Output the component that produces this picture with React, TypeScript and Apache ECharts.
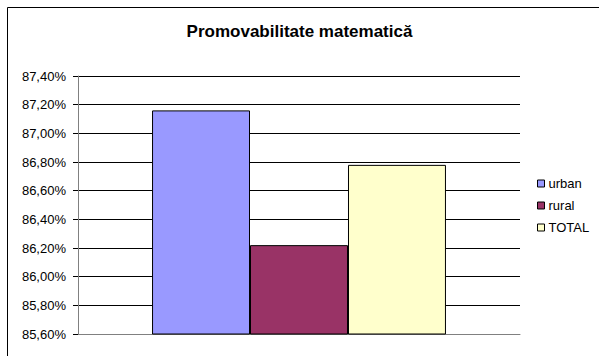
import React, { useEffect, useRef } from "react";
import * as echarts from "echarts";

const categories = [""];
const seriesNames = ["urban", "rural", "TOTAL"];
const seriesValues = [87.16, 86.22, 86.78];
const seriesColors = ["#9999FF", "#993366", "#FFFFCC"];
const yMin = 85.6;
const yMax = 87.4;
const yInterval = 0.2;

export default function App() {
  const ref = useRef<HTMLDivElement>(null);
  useEffect(() => {
    if (!ref.current) return;
    const chart = echarts.init(ref.current, null, { renderer: "svg" });
    const font = "Arial, 'Liberation Sans', sans-serif";
    chart.setOption({
      animation: false,
      backgroundColor: "#ffffff",
      textStyle: { fontFamily: font },
      title: {
        text: "Promovabilitate matematică",
        left: "center",
        top: 18,
        textStyle: { fontSize: 17, fontWeight: "bold", color: "#000", fontFamily: font },
      },
      graphic: [
        {
          type: "rect",
          shape: { x: 7.5, y: 7.5, width: 620, height: 380 },
          style: { fill: "none", stroke: "#000", lineWidth: 1 },
          silent: true,
        },
      ],
      legend: {
        orient: "vertical",
        left: 532,
        top: 172,
        itemWidth: 7,
        itemHeight: 7,
        itemGap: 9,
        itemStyle: { borderColor: "#000", borderWidth: 1 },
        icon: "rect",
        textStyle: { fontSize: 13, color: "#000", fontFamily: font, padding: [0, 0, 0, -1] },
        data: seriesNames,
      },
      grid: { left: 78, right: 79, top: 76, bottom: 22 },
      xAxis: {
        type: "category",
        data: categories,
        axisLine: { show: true, lineStyle: { color: "#808080", width: 1 } },
        axisTick: { show: false },
        axisLabel: { show: false },
      },
      yAxis: {
        type: "value",
        min: yMin,
        max: yMax,
        interval: yInterval,
        axisLine: { show: true, lineStyle: { color: "#808080", width: 1 } },
        axisTick: { show: true, length: 5, lineStyle: { color: "#000" } },
        splitLine: { show: true, lineStyle: { color: "#000", width: 1 } },
        axisLabel: {
          fontSize: 13,
          color: "#000",
          margin: 12,
          fontFamily: font,
          formatter: (v: number) => v.toFixed(2).replace(".", ",") + "%",
        },
      },
      series: seriesNames.map((name, i) => ({
        name,
        type: "bar",
        data: [seriesValues[i]],
        barGap: "0%",
        barCategoryGap: "33.5%",
        itemStyle: { color: seriesColors[i], borderColor: "#000", borderWidth: 1 },
      })),
    });
    return () => chart.dispose();
  }, []);
  return (
    <div
      ref={ref}
      style={{ position: "fixed", left: 0, top: 0, width: 599, height: 356 }}
    />
  );
}
